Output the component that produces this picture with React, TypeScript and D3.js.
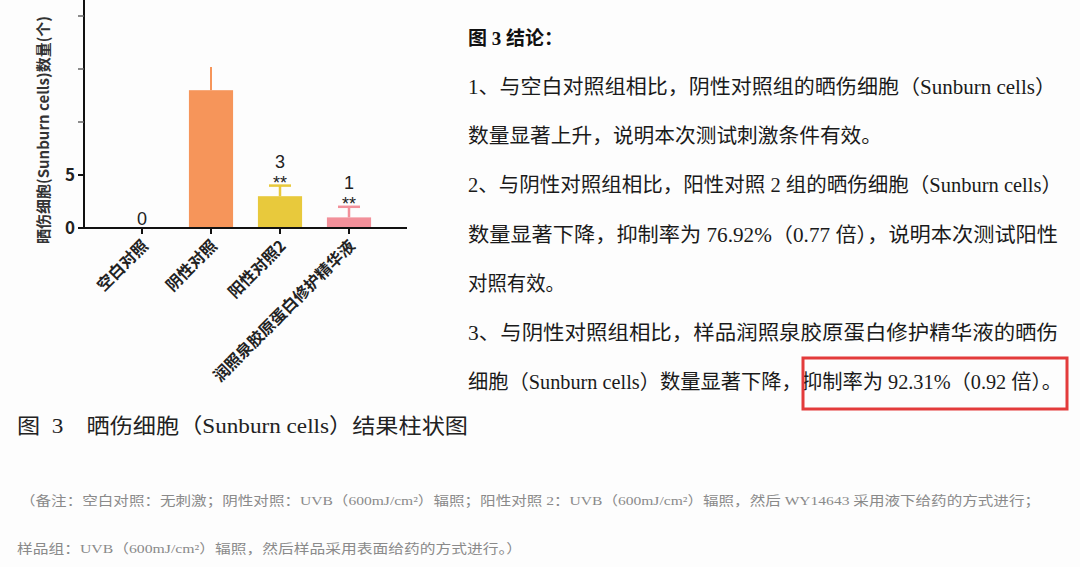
import React from "react";
import * as d3 from "d3";

const categories = ["空白对照", "阴性对照", "阳性对照2", "润照泉胶原蛋白修护精华液"];
const values = [0, 13, 3, 1];
const errors = [0, 2.2, 1, 1];
const valueLabels = ["0", "", "3", "1"];
const sigLabels = ["", "", "**", "**"];
const barColors = ["#ffffff", "#F6955A", "#E8C93C", "#F2909A"];
const capWidths = [0, 0, 22, 22];
const yTicks = [0, 5, 10, 15, 20];
const yTickLabels = ["0", "5", "", "", ""];
const yAxisTitle = "晒伤细胞(Sunburn cells)数量(个)";

const conclusionTitle = "图 3 结论：";
const conclusionLines = [
  "1、与空白对照组相比，阴性对照组的晒伤细胞（Sunburn cells）",
  "数量显著上升，说明本次测试刺激条件有效。",
  "2、与阴性对照组相比，阳性对照 2 组的晒伤细胞（Sunburn cells）",
  "数量显著下降，抑制率为 76.92%（0.77 倍），说明本次测试阳性",
  "对照有效。",
  "3、与阴性对照组相比，样品润照泉胶原蛋白修护精华液的晒伤",
  "细胞（Sunburn cells）数量显著下降，抑制率为 92.31%（0.92 倍）。",
];
const conclusionWidths = [588, 414, 594, 590, 97, 590, 594];
const captionText = "图  3    晒伤细胞（Sunburn cells）结果柱状图";
const noteLines = [
  "（备注：空白对照：无刺激；阴性对照：UVB（600mJ/cm²）辐照；阳性对照 2：UVB（600mJ/cm²）辐照，然后 WY14643 采用液下给药的方式进行；",
  "样品组：UVB（600mJ/cm²）辐照，然后样品采用表面给药的方式进行。）",
];
const noteWidths = [1020, 505];

const serif = "'Liberation Serif', 'Noto Sans CJK SC', serif";
const sans = "'Noto Sans CJK SC', 'Noto Sans', sans-serif";
const labelFont = "'Liberation Sans', Arial, sans-serif";

export default function App() {
  const W = 1080;
  const H = 567;
  const x0 = 84;
  const y0 = 228;
  const x = d3
    .scaleBand<string>()
    .domain(categories)
    .range([107.5, 383.5])
    .paddingInner(0.36)
    .paddingOuter(0.18);
  const y = d3.scaleLinear().domain([0, 25]).range([y0, y0 - 265]);
  const bw = x.bandwidth();

  return (
    <svg
      width={W}
      height={H}
      style={{ position: "absolute", left: 0, top: 0, background: "#fff" }}
    >
      <rect x={0} y={0} width={W} height={H} fill="#fdfdfd" />
      {/* bars */}
      {categories.map((c, i) => {
        const bx = x(c)!;
        const cx = bx + bw / 2;
        const top = y(values[i]);
        const eTop = y(values[i] + errors[i]);
        const col = barColors[i];
        return (
          <g key={c}>
            {values[i] > 0 && (
              <rect x={bx} y={top} width={bw} height={y0 - top} fill={col} />
            )}
            {errors[i] > 0 && (
              <g stroke={col} strokeWidth={capWidths[i] ? 2.5 : 2}>
                <line x1={cx} x2={cx} y1={top} y2={eTop} />
                {capWidths[i] > 0 && (
                  <line
                    x1={cx - capWidths[i] / 2}
                    x2={cx + capWidths[i] / 2}
                    y1={eTop}
                    y2={eTop}
                  />
                )}
              </g>
            )}
            {sigLabels[i] && (
              <text
                x={cx}
                y={eTop + 3}
                textAnchor="middle"
                fontFamily={labelFont}
                fontSize={18}
                fill="#222"
              >
                {sigLabels[i]}
              </text>
            )}
            {valueLabels[i] && (
              <text
                x={cx}
                y={sigLabels[i] ? eTop - 18 : eTop - 3}
                textAnchor="middle"
                fontFamily={labelFont}
                fontSize={18}
                fill="#222"
              >
                {valueLabels[i]}
              </text>
            )}
          </g>
        );
      })}
      {/* axes */}
      <line x1={x0} x2={x0} y1={y(25)} y2={y0 + 1} stroke="#111" strokeWidth={2} />
      <line x1={x0 - 1} x2={407} y1={y0} y2={y0} stroke="#111" strokeWidth={2} />
      {yTicks.map((t, i) => (
        <g key={t}>
          <line
            x1={x0 - 6}
            x2={x0}
            y1={y(t)}
            y2={y(t)}
            stroke={yTickLabels[i] ? "#111" : "#666"}
            strokeWidth={yTickLabels[i] ? 2 : 1.5}
          />
          {yTickLabels[i] && (
            <text
              x={x0 - 9}
              y={y(t)}
              dy="0.35em"
              textAnchor="end"
              fontFamily={sans}
              fontWeight={700}
              fontSize={17}
              fill="#222"
            >
              {yTickLabels[i]}
            </text>
          )}
        </g>
      ))}
      {categories.map((c) => {
        const cx = x(c)! + bw / 2;
        return (
          <g key={"t" + c}>
            <line x1={cx} x2={cx} y1={y0} y2={y0 + 6} stroke="#111" strokeWidth={2} />
            <text
              transform={`translate(${cx + 3},${y0 + 15}) rotate(-45)`}
              textAnchor="end"
              fontFamily={sans}
              fontWeight={700}
              fontSize={16}
              fill="#222"
              dy="0.35em"
            >
              {c}
            </text>
          </g>
        );
      })}
      <text
        transform={`translate(49,244) rotate(-90)`}
        textAnchor="start"
        fontFamily={sans}
        fontWeight={700}
        fontSize={15}
        fill="#333"
      >
        {yAxisTitle}
      </text>

      {/* conclusion text */}
      <text x={468} y={45} fontFamily={serif} fontWeight={700} fontSize={19} fill="#111">
        {conclusionTitle}
      </text>
      {conclusionLines.map((l, i) => (
        <text
          key={i}
          x={468}
          y={94 + i * 49.2}
          fontFamily={serif}
          fontSize={20}
          fill="#1a1a1a"
          textLength={conclusionWidths[i]}
          lengthAdjust="spacingAndGlyphs"
        >
          {l}
        </text>
      ))}
      <rect
        x={803}
        y={358}
        width={264}
        height={51}
        fill="none"
        stroke="#E33B3B"
        strokeWidth={3}
      />
      <text
        x={17}
        y={433}
        fontFamily={serif}
        fontSize={21}
        fill="#222"
        style={{ whiteSpace: "pre" }}
        textLength={451}
        lengthAdjust="spacingAndGlyphs"
      >
        {captionText}
      </text>
      {noteLines.map((l, i) => (
        <text
          key={"n" + i}
          x={i === 0 ? 20 : 17}
          y={505 + i * 48}
          fontFamily={serif}
          fontSize={13}
          fill="#8a8a8a"
          textLength={noteWidths[i]}
          lengthAdjust="spacingAndGlyphs"
        >
          {l}
        </text>
      ))}
    </svg>
  );
}
